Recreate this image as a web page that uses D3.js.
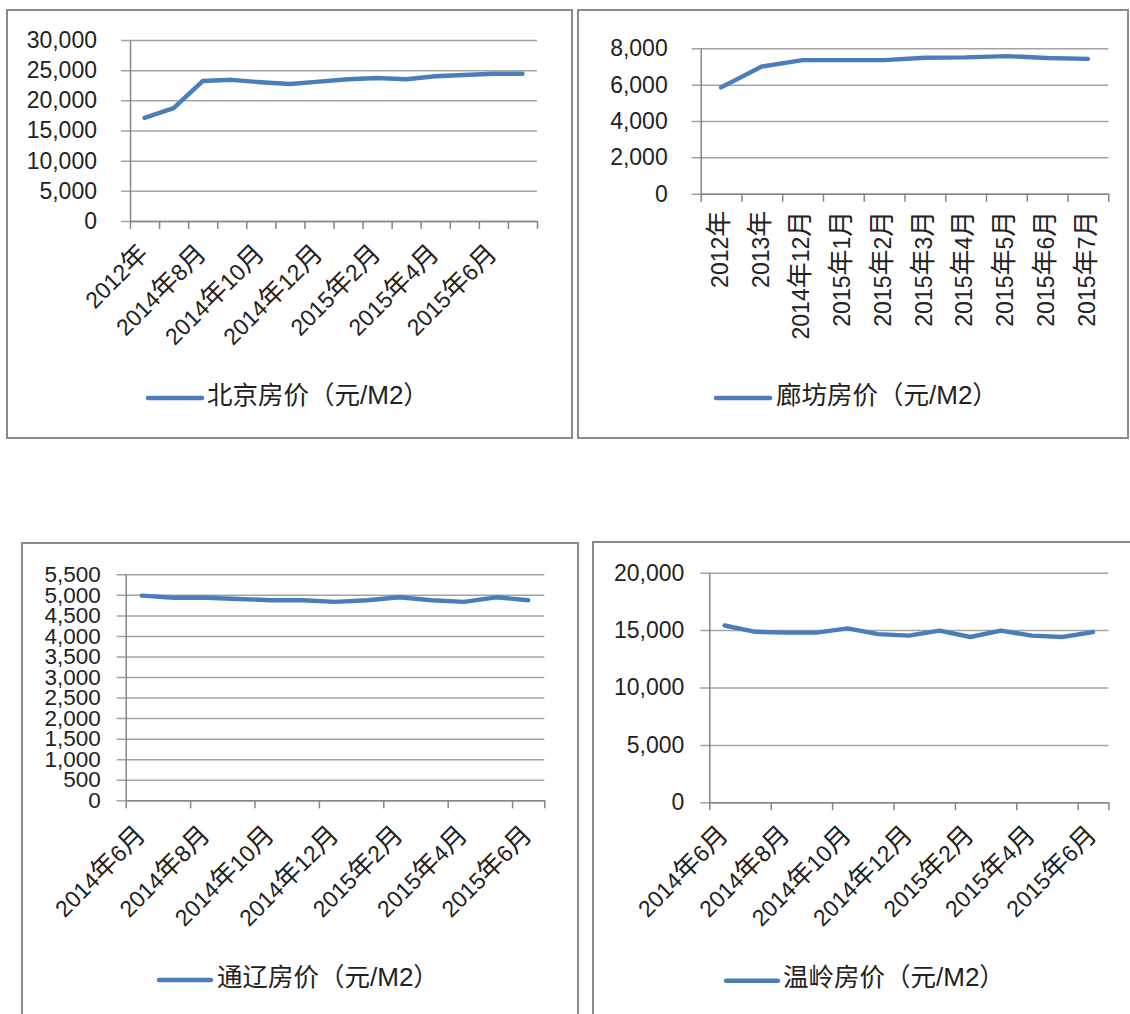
<!DOCTYPE html>
<html>
<head>
<meta charset="utf-8">
<script src="https://cdn.jsdelivr.net/npm/d3@7/dist/d3.min.js"></script>
<style>
  html, body { margin: 0; padding: 0; background: #fff; }
  svg { display: block; }
  text { font-family: "Liberation Sans", "Noto Sans CJK SC", sans-serif; fill: #222; }
  .cjk { font-family: "Noto Sans CJK SC", sans-serif; }
</style>
</head>
<body>
<svg id="chart" width="1130" height="1014"></svg>
<script>
// ---------- data ----------
const bjCategories = ["2012年","2013年","2014年8月","2014年9月","2014年10月","2014年11月","2014年12月","2015年1月","2015年2月","2015年3月","2015年4月","2015年5月","2015年6月","2015年7月"];
const bjValues = [17100, 18700, 23200, 23400, 23000, 22700, 23100, 23500, 23700, 23500, 24000, 24200, 24400, 24400];
const bjTicks = [0, 5000, 10000, 15000, 20000, 25000, 30000];
const bjLegend = "北京房价（元/M2）";

const lfCategories = ["2012年","2013年","2014年12月","2015年1月","2015年2月","2015年3月","2015年4月","2015年5月","2015年6月","2015年7月"];
const lfValues = [5850, 7000, 7350, 7350, 7350, 7480, 7500, 7570, 7470, 7420];
const lfTicks = [0, 2000, 4000, 6000, 8000];
const lfLegend = "廊坊房价（元/M2）";

const tlCategories = ["2014年6月","2014年7月","2014年8月","2014年9月","2014年10月","2014年11月","2014年12月","2015年1月","2015年2月","2015年3月","2015年4月","2015年5月","2015年6月"];
const tlValues = [4980, 4930, 4930, 4900, 4870, 4870, 4830, 4870, 4940, 4870, 4830, 4940, 4870];
const tlTicks = [0, 500, 1000, 1500, 2000, 2500, 3000, 3500, 4000, 4500, 5000, 5500];
const tlLegend = "通辽房价（元/M2）";

const wlCategories = ["2014年6月","2014年7月","2014年8月","2014年9月","2014年10月","2014年11月","2014年12月","2015年1月","2015年2月","2015年3月","2015年4月","2015年5月","2015年6月"];
const wlValues = [15400, 14850, 14780, 14780, 15150, 14650, 14520, 14950, 14400, 14950, 14520, 14400, 14830];
const wlTicks = [0, 5000, 10000, 15000, 20000];
const wlLegend = "温岭房价（元/M2）";

// ---------- layout ----------
const charts = [
  { cats: bjCategories, vals: bjValues, ticks: bjTicks, legend: bjLegend,
    frame: [7, 10, 565, 428], x0: 130, x1: 537, yTop: 40, yBot: 221,
    yLabelGap: 33, yFont: 23, labelEvery: 2, tickEvery: 1, rot: -45, ldx: 1, ldy: 30,
    leg: { x1: 148, x2: 202, y: 398, tx: 207 } },
  { cats: lfCategories, vals: lfValues, ticks: lfTicks, legend: lfLegend,
    frame: [578, 10, 550, 428], x0: 700.7, x1: 1108.3, yTop: 48.3, yBot: 193.7,
    yLabelGap: 33, yFont: 23, labelEvery: 1, tickEvery: 1, rot: -90, ldx: 1, ldy: 17,
    leg: { x1: 716, x2: 770, y: 398, tx: 776 } },
  { cats: tlCategories, vals: tlValues, ticks: tlTicks, legend: tlLegend,
    frame: [22, 543, 556, 520], x0: 125.7, x1: 544.3, yTop: 574.3, yBot: 800.3,
    yLabelGap: 25, yFont: 22.5, labelEvery: 2, tickEvery: 2, rot: -45, ldx: 1, ldy: 32,
    leg: { x1: 159, x2: 211, y: 980, tx: 217 } },
  { cats: wlCategories, vals: wlValues, ticks: wlTicks, legend: wlLegend,
    frame: [593, 542, 600, 520], x0: 709.3, x1: 1108.4, yTop: 572.7, yBot: 802.3,
    yLabelGap: 25, yFont: 23, labelEvery: 2, tickEvery: 2, rot: -45, ldx: 1, ldy: 30,
    leg: { x1: 726, x2: 778, y: 980.7, tx: 783 } }
];

const svg = d3.select("#chart");
const LINE = "#4a7ebb";
const GRID = "#a3a3a3";
const AXIS = "#868686";
const fmt = d3.format(",");
const CJK = /[\u3000-\u9fff\uff00-\uffef]/;

// split a string into runs of CJK / non-CJK characters, each in its own tspan
function runs(sel, str, latinSize, cjkSize) {
  const parts = [];
  for (const ch of str) {
    const isC = CJK.test(ch);
    if (parts.length && parts[parts.length - 1].c === isC) parts[parts.length - 1].t += ch;
    else parts.push({ c: isC, t: ch });
  }
  parts.forEach(p => {
    sel.append("tspan")
      .attr("class", p.c ? "cjk" : null)
      .style("font-size", (p.c ? cjkSize : latinSize) + "px")
      .text(p.t);
  });
}

charts.forEach(c => {
  const g = svg.append("g");
  // frame
  g.append("rect")
    .attr("x", c.frame[0]).attr("y", c.frame[1])
    .attr("width", c.frame[2]).attr("height", c.frame[3])
    .attr("fill", "#fff").attr("stroke", "#8a8a8a").attr("stroke-width", 2);

  const y = d3.scaleLinear().domain([0, d3.max(c.ticks)]).range([c.yBot, c.yTop]);
  const x = d3.scaleBand().domain(c.cats).range([c.x0, c.x1]).padding(0);

  // gridlines (extend outward as tick marks)
  const grid = d3.axisLeft(y).tickValues(c.ticks).tickSize(-(c.x1 - c.x0 + 9)).tickFormat("");
  g.append("g").attr("transform", `translate(${c.x0 - 9},0)`).call(grid)
    .call(s => s.select(".domain").remove())
    .call(s => s.selectAll(".tick line").attr("stroke", GRID).attr("stroke-width", 1.5));

  // y axis labels
  const yAxis = d3.axisLeft(y).tickValues(c.ticks).tickFormat(fmt).tickSize(0).tickPadding(c.yLabelGap);
  g.append("g").attr("transform", `translate(${c.x0},0)`).call(yAxis)
    .call(s => s.select(".domain").attr("stroke", AXIS).attr("stroke-width", 1.5))
    .call(s => s.selectAll(".tick text").style("font-size", c.yFont + "px").attr("fill", "#222"));

  // x axis line + tick marks at band boundaries
  const bounds = d3.range(0, c.cats.length + 1).filter(i => i % c.tickEvery === 0 || i === c.cats.length);
  const xb = d3.scaleLinear().domain([0, c.cats.length]).range([c.x0, c.x1]);
  const xAxis = d3.axisBottom(xb).tickValues(bounds).tickSize(8).tickSizeOuter(0).tickFormat("");
  g.append("g").attr("transform", `translate(0,${c.yBot})`).call(xAxis)
    .call(s => s.select(".domain").attr("stroke", AXIS).attr("stroke-width", 1.5))
    .call(s => s.selectAll(".tick line").attr("stroke", AXIS).attr("stroke-width", 1.5));

  // category labels
  g.append("g").selectAll("text")
    .data(c.cats.filter((d, i) => i % c.labelEvery === 0))
    .join("text")
    .attr("transform", d => `translate(${x(d) + x.bandwidth() / 2 + c.ldx},${c.yBot + c.ldy}) rotate(${c.rot})`)
    .attr("text-anchor", "end")
    .attr("dy", "0.36em")
    .each(function (d) { runs(d3.select(this), d, 23, 26); });

  // line
  const line = d3.line()
    .x((d, i) => x(c.cats[i]) + x.bandwidth() / 2)
    .y(d => y(d));
  g.append("path").datum(c.vals)
    .attr("d", line)
    .attr("fill", "none").attr("stroke", LINE).attr("stroke-width", 4.4)
    .attr("stroke-linejoin", "round").attr("stroke-linecap", "round");

  // legend
  g.append("line")
    .attr("x1", c.leg.x1).attr("x2", c.leg.x2).attr("y1", c.leg.y).attr("y2", c.leg.y)
    .attr("stroke", LINE).attr("stroke-width", 4.5).attr("stroke-linecap", "round");
  g.append("text")
    .attr("x", c.leg.tx).attr("y", c.leg.y)
    .attr("dy", "0.36em")
    .each(function () { runs(d3.select(this), c.legend, 26, 25.5); });
});
</script>
</body>
</html>
